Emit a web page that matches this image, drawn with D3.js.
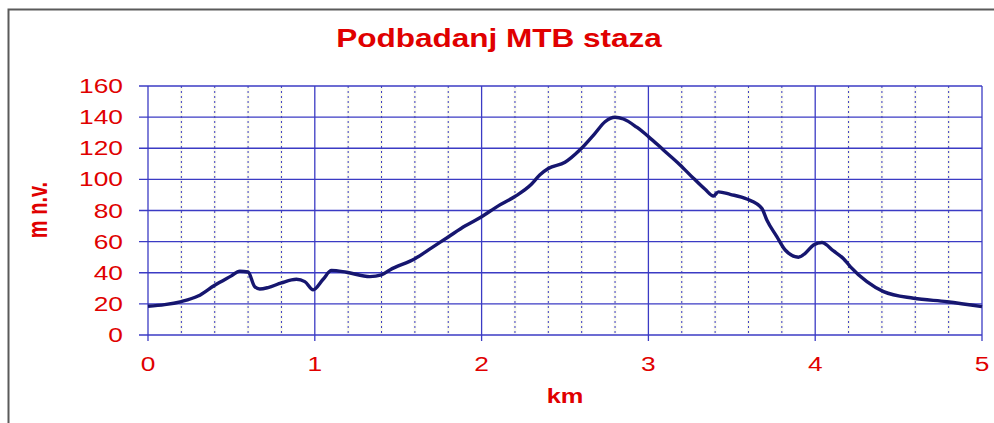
<!DOCTYPE html>
<html>
<head>
<meta charset="utf-8">
<script src="https://cdn.jsdelivr.net/npm/d3@7"></script>
<style>
  html, body { margin: 0; padding: 0; background: #fff; }
  svg { display: block; font-family: "Liberation Sans", Arial, sans-serif; }
</style>
</head>
<body>
<svg id="chart" width="994" height="423"></svg>
<script>
// Elevation profile
const km = [0, 0.1, 0.2, 0.3, 0.4, 0.5, 0.55, 0.6, 0.64, 0.67, 0.72, 0.8, 0.89, 0.94, 0.99, 1.05, 1.1, 1.19, 1.33, 1.4, 1.45, 1.6, 1.7, 1.8, 1.9, 2.0, 2.1, 2.2, 2.3, 2.35, 2.4, 2.5, 2.59, 2.68, 2.74, 2.8, 2.85, 2.93, 3.0, 3.09, 3.19, 3.27, 3.34, 3.39, 3.42, 3.49, 3.59, 3.68, 3.71, 3.77, 3.82, 3.9, 3.94, 3.99, 4.04, 4.11, 4.17, 4.21, 4.31, 4.41, 4.59, 4.79, 5.0];
const elev = [18.5, 19.5, 21.5, 25, 32, 38, 41, 40.5, 31, 29.6, 30.5, 33.5, 35.8, 34.3, 29, 35.8, 41.5, 40.3, 37.5, 38.6, 41.8, 49, 56, 63, 70, 76, 83, 89, 97, 103, 107, 111, 119, 129.6, 137, 139.9, 138.8, 133.5, 127.5, 118.9, 109.3, 100.7, 93.6, 89.3, 92, 90.4, 87.4, 81.4, 73.9, 63.2, 54.6, 50, 52.5, 57.8, 59.4, 54, 49, 44, 34.3, 27.9, 23.6, 21.4, 18.2];

const title = 'Podbadanj MTB staza';
const xTicks = [0, 1, 2, 3, 4, 5];
const xMinor = [0.2, 0.4, 0.6, 0.8];
const yTicks = [0, 20, 40, 60, 80, 100, 120, 140, 160];

const svg = d3.select('#chart');
const red = '#e00000';
const gridBlue = '#3b3bc4';
const lineBlue = '#16166f';

const x = d3.scaleLinear().domain([0, 5]).range([148, 982]);
const y = d3.scaleLinear().domain([0, 160]).range([335, 86]);

// outer frame, only left and top edges are visible
svg.append('rect')
  .attr('x', 8.5).attr('y', 9.5)
  .attr('width', 1100).attr('height', 600)
  .attr('fill', 'none').attr('stroke', '#5a5a5a').attr('stroke-width', 2);

// dotted minor verticals
const minor = [];
xTicks.slice(0, -1).forEach(k => xMinor.forEach(m => minor.push(k + m)));

svg.append('g').selectAll('line').data(minor).join('line')
  .attr('x1', d => x(d)).attr('x2', d => x(d))
  .attr('y1', y(160)).attr('y2', y(0))
  .attr('stroke', '#f9f9ec').attr('stroke-width', 3);

svg.append('g').selectAll('line').data(minor).join('line')
  .attr('x1', d => x(d)).attr('x2', d => x(d))
  .attr('y1', y(160)).attr('y2', y(0))
  .attr('stroke', gridBlue).attr('stroke-width', 1)
  .attr('stroke-dasharray', '2,3');

// horizontal grid + y axis ticks
svg.append('g').selectAll('line').data(yTicks).join('line')
  .attr('x1', 139).attr('x2', x(5))
  .attr('y1', d => y(d)).attr('y2', d => y(d))
  .attr('stroke', gridBlue).attr('stroke-width', 1.3);

// solid verticals per km, with a tick below the axis
svg.append('g').selectAll('line').data(xTicks).join('line')
  .attr('x1', d => x(d)).attr('x2', d => x(d))
  .attr('y1', y(160)).attr('y2', y(0) + 6)
  .attr('stroke', gridBlue).attr('stroke-width', 1.3);

// tick labels, horizontally stretched like the source
svg.append('g').selectAll('text').data(yTicks).join('text')
  .attr('transform', d => `translate(123, ${y(d) + 7}) scale(1.35, 1)`)
  .attr('text-anchor', 'end')
  .attr('font-size', 19.5)
  .attr('fill', red)
  .text(d => d);

svg.append('g').selectAll('text').data(xTicks).join('text')
  .attr('transform', d => `translate(${x(d)}, 371) scale(1.35, 1)`)
  .attr('text-anchor', 'middle')
  .attr('font-size', 19.5)
  .attr('fill', red)
  .text(d => d);

// profile line
const line = d3.line()
  .x((d, i) => x(km[i]))
  .y(d => y(d))
  .curve(d3.curveMonotoneX);

svg.append('path')
  .datum(elev)
  .attr('d', line)
  .attr('fill', 'none')
  .attr('stroke', lineBlue)
  .attr('stroke-width', 3.4)
  .attr('stroke-linejoin', 'round');

// titles
svg.append('text')
  .attr('transform', 'translate(499, 47) scale(1.19, 1)')
  .attr('text-anchor', 'middle')
  .attr('font-size', 26.5)
  .attr('font-weight', 'bold')
  .attr('fill', red)
  .text(title);

svg.append('text')
  .attr('transform', 'translate(565, 403) scale(1.27, 1)')
  .attr('text-anchor', 'middle')
  .attr('font-size', 20)
  .attr('font-weight', 'bold')
  .attr('fill', red)
  .text('km');

svg.append('text')
  .attr('transform', 'translate(47, 210) scale(1.35, 1) rotate(-90)')
  .attr('text-anchor', 'middle')
  .attr('font-size', 20)
  .attr('font-weight', 'bold')
  .attr('fill', red)
  .text('m n.v.');
</script>
</body>
</html>
